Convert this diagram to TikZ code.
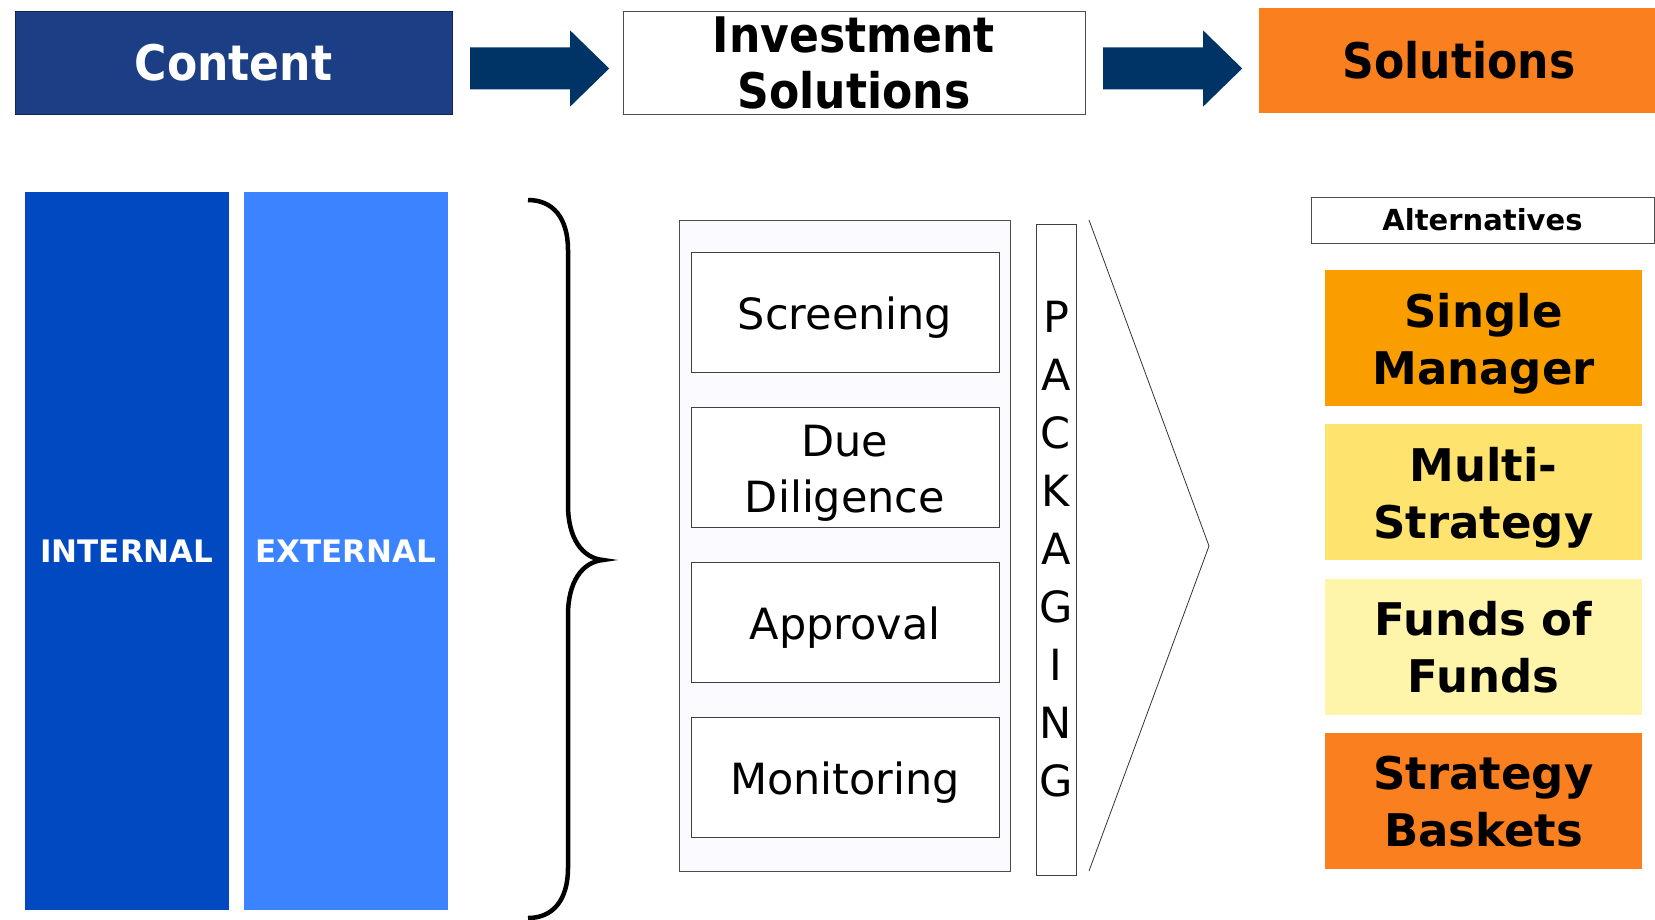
\documentclass[tikz,border=0pt]{standalone}
\usepackage{fontspec}
\setmainfont{DejaVu Sans}
\newfontfamily\headfont{DejaVu Sans Condensed}
\usetikzlibrary{calc}

\definecolor{navy}{HTML}{1B3E84}
\definecolor{arrowblue}{HTML}{003366}
\definecolor{solorange}{HTML}{FA7F1E}
\definecolor{intblue}{HTML}{0049C1}
\definecolor{extblue}{HTML}{3B83FF}
\definecolor{altgold}{HTML}{FA9E00}
\definecolor{altyellow}{HTML}{FFE36F}
\definecolor{altcream}{HTML}{FFF5AA}

\tikzset{
  header/.style={minimum height=103pt, inner sep=0pt, align=center,
    font=\headfont\bfseries\fontsize{49}{56}\selectfont},
  flowarrow/.style={fill=arrowblue},
  bar/.style={minimum width=204pt, minimum height=718pt, inner sep=0pt,
    text=white, font=\bfseries\fontsize{31}{36}\selectfont},
  stage/.style={draw=black!75, fill=white, minimum width=308pt,
    minimum height=120pt, inner sep=0pt, align=center,
    font=\fontsize{43}{56}\selectfont,
    execute at begin node={\rule{0pt}{1em}}},
  alt/.style={minimum width=317pt, minimum height=136pt, inner sep=0pt,
    align=center, font=\bfseries\fontsize{45}{57}\selectfont,
    text height=92pt, text depth=0pt},
}

\begin{document}
\begin{tikzpicture}[x=1pt,y=-1pt]
  \useasboundingbox (0,0) rectangle (1655,920);

  % top row
  \node[header, fill=navy, draw=navy!60!black, minimum width=437pt, text=white]
    (content) at (233.5,62.5) {Content};
  \node[header, draw=black!70, fill=white, minimum width=462pt]
    (invest) at (854,62.5) {Investment\\Solutions};
  \node[header, fill=solorange, minimum width=400pt, minimum height=105pt]
    (solutions) at (1459,60.5) {Solutions};

  \fill[flowarrow] ($(content.east)+(18,-15)$) -- ++(100,0) -- ++(0,-17)
    -- ++(39,38) -- ++(-39,38) -- ++(0,-17) -- ++(-100,0) -- cycle;
  \fill[flowarrow] ($(invest.east)+(18,-15)$) -- ++(100,0) -- ++(0,-17)
    -- ++(39,38) -- ++(-39,38) -- ++(0,-17) -- ++(-100,0) -- cycle;

  % content sources
  \node[bar, fill=intblue] (internal) at (127,551) {INTERNAL};
  \node[bar, fill=extblue] (external) at (346,551) {EXTERNAL};

  \draw[line width=4.5pt] (528,200) .. controls (553,200) and (568,218) .. (568,250)
    -- (568,505) .. controls (568,538) and (582,558) .. (603,560)
    .. controls (582,562) and (568,582) .. (568,615)
    -- (568,868) .. controls (568,900) and (553,918) .. (528,918);

  % process
  \node[draw=black!70, fill=blue!2, minimum width=331pt, minimum height=651pt]
    (process) at (844.5,545.5) {};
  \node[stage] (screen) at (845,312) {Screening};
  \node[stage, text height=90pt, text depth=0pt] (due) at (845,467) {Due\\Diligence};
  \node[stage] (approve) at (845,622) {Approval};
  \node[stage] (monitor) at (845,777) {Monitoring};

  \node[draw=black!75, fill=white, minimum width=40pt, minimum height=651pt,
    inner sep=0pt, align=center, font=\fontsize{43}{58}\selectfont]
    (pack) at (1056,549.5) {P\\A\\C\\K\\A\\G\\I\\N\\G};

  \coordinate (chevtop) at (1089,220);
  \coordinate (chevtip) at (1209,546);
  \coordinate (chevbot) at (1089,871);
  \draw[black!80, line width=0.8pt] (chevtop) -- (chevtip) -- (chevbot);

  % solutions
  \node[draw=black!70, fill=white, minimum width=343pt, minimum height=46pt,
    inner sep=0pt, font=\bfseries\fontsize{29}{34}\selectfont]
    (alts) at (1482.5,220) {Alternatives};
  \node[alt, fill=altgold] (single) at (1483.5,338) {Single\\Manager};
  \node[alt, fill=altyellow] (multi) at (1483.5,492) {Multi-\\Strategy};
  \node[alt, fill=altcream] (fof) at (1483.5,646.5) {Funds of\\Funds};
  \node[alt, fill=solorange] (baskets) at (1483.5,800.5) {Strategy\\Baskets};
\end{tikzpicture}
\end{document}
